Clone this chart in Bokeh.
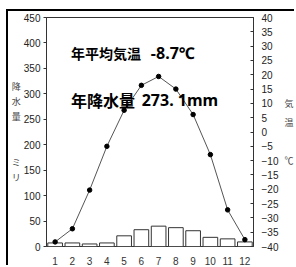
from bokeh.plotting import figure
from bokeh.models import Range1d, LinearAxis, FixedTicker, Label, ColumnDataSource
from bokeh.embed import file_html
from bokeh.resources import INLINE

months = list(range(1, 13))
month_labels = [str(m) for m in months]
precip = [7, 7, 5, 7, 21, 33, 40, 37, 31, 18, 15, 9]
temp = [-38.4, -33.8, -20.3, -5.0, 7.6, 16.3, 19.4, 15.0, 6.1, -7.9, -27.2, -37.6]
precip_ticks = list(range(0, 451, 50))
temp_ticks = list(range(-40, 41, 5))
title1_a, title1_b = "年平均気温", "-8.7℃"
title2_a, title2_b = "年降水量", "273. 1mm"
left_title = "降\n水\n量\n\n\nミ\nリ"
right_title = "気\n温\n\n℃"

src = ColumnDataSource(dict(m=months, p=precip, t=temp))

p = figure(width=288, height=256, x_range=Range1d(0.5, 12.5), y_range=Range1d(0, 450),
           output_backend="svg", toolbar_location=None,
           min_border_left=37, min_border_right=40, min_border_top=6, min_border_bottom=16)
p.styles = {"margin-left": "6px", "margin-top": "9px",
            "border-left": "2px solid black", "border-top": "2px solid black"}
p.extra_y_ranges = {"temp": Range1d(-40, 40)}
p.grid.visible = False
p.outline_line_color = "#333333"
p.outline_line_width = 1
p.background_fill_color = "white"
p.border_fill_color = "white"

FONT = "Liberation Sans"
JP = "Noto Sans CJK JP"

# bottom axis
xa = p.xaxis[0]
xa.ticker = FixedTicker(ticks=months)
xa.major_label_overrides = {m: s for m, s in zip(months, month_labels)}
xa.axis_line_color = None
xa.major_tick_line_color = None
xa.minor_tick_line_color = None
xa.major_label_standoff = 4
xa.major_label_text_font = FONT
xa.major_label_text_font_size = "10px"
xa.major_label_text_color = "#333333"

# left axis
ya = p.yaxis[0]
ya.ticker = FixedTicker(ticks=precip_ticks)
ya.axis_line_color = "#333333"
ya.major_tick_in = 0
ya.major_tick_out = 3
ya.major_tick_line_color = "#333333"
ya.minor_tick_line_color = None
ya.major_label_standoff = 3
ya.major_label_text_font = FONT
ya.major_label_text_font_size = "10px"
ya.major_label_text_color = "#222222"
ya.axis_label = left_title
ya.axis_label_orientation = "horizontal"
ya.axis_label_standoff = 0
ya.axis_label_text_font = JP
ya.axis_label_text_font_style = "normal"
ya.axis_label_text_font_size = "9px"
ya.axis_label_text_line_height = 1.17
ya.axis_label_text_color = "#444444"

# right axis
ra = LinearAxis(y_range_name="temp", ticker=FixedTicker(ticks=temp_ticks))
ra.axis_line_color = "#333333"
ra.major_tick_in = 3
ra.major_tick_out = 0
ra.major_tick_line_color = "#333333"
ra.minor_tick_line_color = None
ra.major_label_standoff = 8
ra.major_label_text_font = FONT
ra.major_label_text_font_size = "10px"
ra.major_label_text_color = "#222222"
ra.axis_label = right_title
ra.axis_label_orientation = "horizontal"
ra.axis_label_standoff = 3
ra.axis_label_text_font = JP
ra.axis_label_text_font_style = "normal"
ra.axis_label_text_font_size = "9px"
ra.axis_label_text_line_height = 1.44
ra.axis_label_text_color = "#444444"
p.add_layout(ra, "right")

# bars
p.vbar(x="m", top="p", bottom=0, width=0.85, source=src,
       fill_color="white", line_color="#333333", line_width=1)

# temperature line
p.line(x="m", y="t", source=src, y_range_name="temp", line_color="#555555", line_width=1)
p.scatter(x="m", y="t", source=src, y_range_name="temp", size=4.5,
          fill_color="black", line_color="black")

# annotations inside
for txt, x, y, font, size in [(title1_a, 1.92, 380, JP, "14px"),
                              (title1_b, 6.55, 380, "Noto Sans", "16px"),
                              (title2_a, 1.92, 288, JP, "16px"),
                              (title2_b, 6.02, 288, "Noto Sans", "16px")]:
    p.add_layout(Label(x=x, y=y, text=txt, text_font=font, text_font_style="bold",
                       text_font_size=size, text_color="black", text_baseline="middle"))

open("out.html", "w").write(file_html(p, INLINE))
